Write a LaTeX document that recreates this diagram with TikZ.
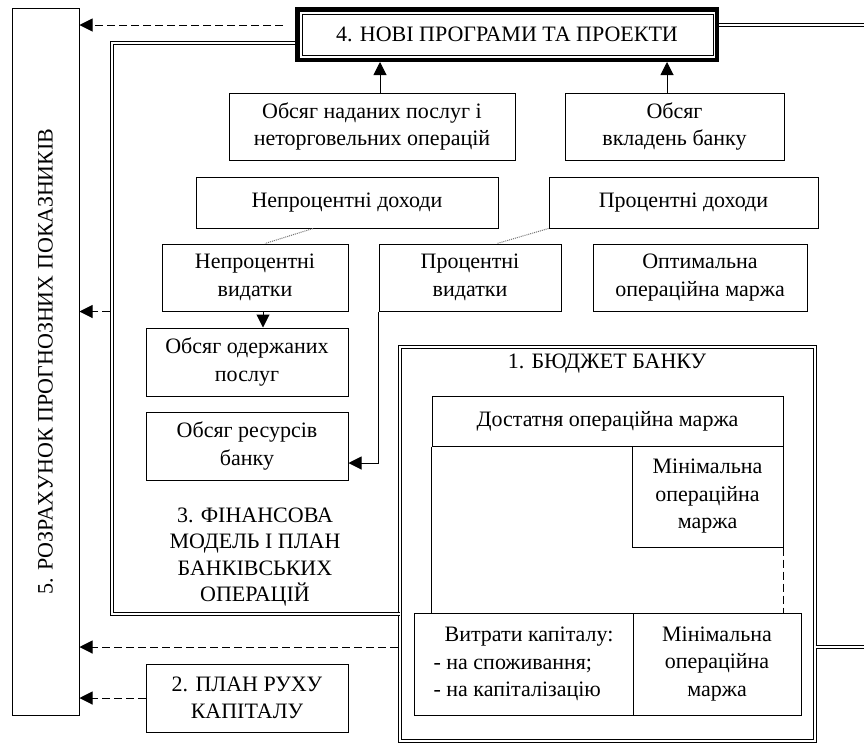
\documentclass[tikz,border=0pt]{standalone}
\usepackage{fontspec}
\setmainfont{Liberation Serif}
\usetikzlibrary{arrows.meta,calc}
\begin{document}
\begin{tikzpicture}[x=1pt,y=-1pt,
  font=\fontsize{22}{27.5}\selectfont,
  box/.style={draw, line width=1pt, align=center, inner sep=0pt},
  dbl/.style={draw, line width=1pt, double, double distance=2.2pt},
  arr/.style={line width=1pt, -{Triangle[length=13pt,width=13pt]}},
  darr/.style={arr, dash pattern=on 8pt off 4pt},
  dots/.style={line width=1pt, black!55, dash pattern=on 1pt off 1pt}
]
\useasboundingbox[fill=white] (0,0) rectangle (864,745);

% 5. left tall box
\node[box, rotate=90, minimum width=707, minimum height=67] (L5) at (45.5,361.5)
  {5. РОЗРАХУНОК ПРОГНОЗНИХ ПОКАЗНИКІВ};

% 4. top box
\node[draw, line width=4.5pt, inner sep=0pt, minimum width=419.5, minimum height=50.5] (T4) at (507,34.5)
  {4. НОВІ ПРОГРАМИ ТА ПРОЕКТИ};
\draw[line width=1pt] ($(T4.north west)+(7,7)$) rectangle ($(T4.south east)+(-6,-7)$);

% row 1
\node[box, minimum width=286, minimum height=67] (A1) at (372,126.5)
  {Обсяг наданих послуг і\\неторговельних операцій};
\node[box, minimum width=219, minimum height=67] (A2) at (674.5,126.5)
  {Обсяг\\вкладень банку};
% row 2
\node[box, minimum width=302, minimum height=51] (B1) at (347,202.5) {Непроцентні доходи};
\node[box, minimum width=269, minimum height=51] (B2) at (683.5,202.5) {Процентні доходи};
% row 3
\node[box, minimum width=186, minimum height=67] (C1) at (255,277.5) {Непроцентні\\видатки};
\node[box, minimum width=182, minimum height=67] (C2) at (470,277.5) {Процентні\\видатки};
\node[box, minimum width=214, minimum height=67] (C3) at (700,277.5) {Оптимальна\\операційна маржа};
% left column
\node[box, minimum width=202, minimum height=68] (D1) at (247,362) {Обсяг одержаних\\послуг};
\node[box, minimum width=202, minimum height=68] (D2) at (247,446) {Обсяг ресурсів\\банку};
\node[box, minimum width=202, minimum height=68] (P2) at (247,698) {2. ПЛАН РУХУ\\КАПІТАЛУ};

% 1. budget frame
\node[dbl, inner sep=0pt, minimum width=415, minimum height=394] (BB) at (607.5,544) {};
\node (BBt) at (607,364) {1. БЮДЖЕТ БАНКУ};
\node[box, minimum width=351, minimum height=50] (E1) at (607.5,421) {Достатня операційна маржа};
\node[box, minimum width=151, minimum height=101] (E2) at (707.5,496.5) {Мінімальна\\операційна\\маржа};
\node[box, align=left, minimum width=219, minimum height=102] (V1) at (523.5,664)
  {\hspace*{11pt}Витрати капіталу:\\- на споживання;\\- на капіталізацію};
\node[box, minimum width=168, minimum height=102] (V2) at (717,664) {Мінімальна\\операційна\\маржа};
\draw[line width=1pt] (E1.south west) -- (E1.south west |- V1.north);
\draw[line width=1pt, dash pattern=on 8pt off 4pt] (E2.south east) -- (E2.south east |- V1.north);

% 3. financial model frame
\coordinate (f3a) at (112,43);
\coordinate (f3b) at (112,614);
\draw[dbl] (T4.west |- f3a) -- (f3a) -- (f3b) -- (BB.west |- f3b);
\node[align=center, font=\fontsize{22}{26.5}\selectfont] (F3) at (255,557)
  {3. ФІНАНСОВА\\МОДЕЛЬ І ПЛАН\\БАНКІВСЬКИХ\\ОПЕРАЦІЙ};

% right double connectors
\coordinate (r1) at (870,25);
\coordinate (r2) at (870,647);
\draw[dbl] ([yshift=9.5pt]T4.east) -- (r1);
\draw[dbl] ([yshift=-103pt]BB.east) -- (r2);

% solid arrows
\draw[arr] ([xshift=8pt]A1.north) -- ([xshift=8pt]A1.north |- T4.south);
\draw[arr] ([xshift=-7.5pt]A2.north) -- ([xshift=-7.5pt]A2.north |- T4.south);
\draw[arr] ([xshift=8pt]C1.south) -- ([xshift=8pt]C1.south |- D1.north);
\draw[arr] (C2.south west) |- ([yshift=-17pt]D2.east);

% dotted links
\draw[dots] ([xshift=-34pt]B1.south) -- ([xshift=10pt]C1.north);
\draw[dots] (B2.south west) -- ([xshift=27pt]C2.north);

% dashed arrows to 5
\draw[darr, shorten <=12pt] ([yshift=9.5pt]T4.west) -- (L5.south |- r1);
\draw[darr, shorten <=2pt] (f3a |- C1.south) -- (L5.south |- C1.south);
\draw[darr, shorten <=2pt] ([yshift=-103pt]BB.west) -- (L5.south |- r2);
\draw[darr] (P2.west) -- (L5.south |- P2.west);
\end{tikzpicture}
\end{document}
